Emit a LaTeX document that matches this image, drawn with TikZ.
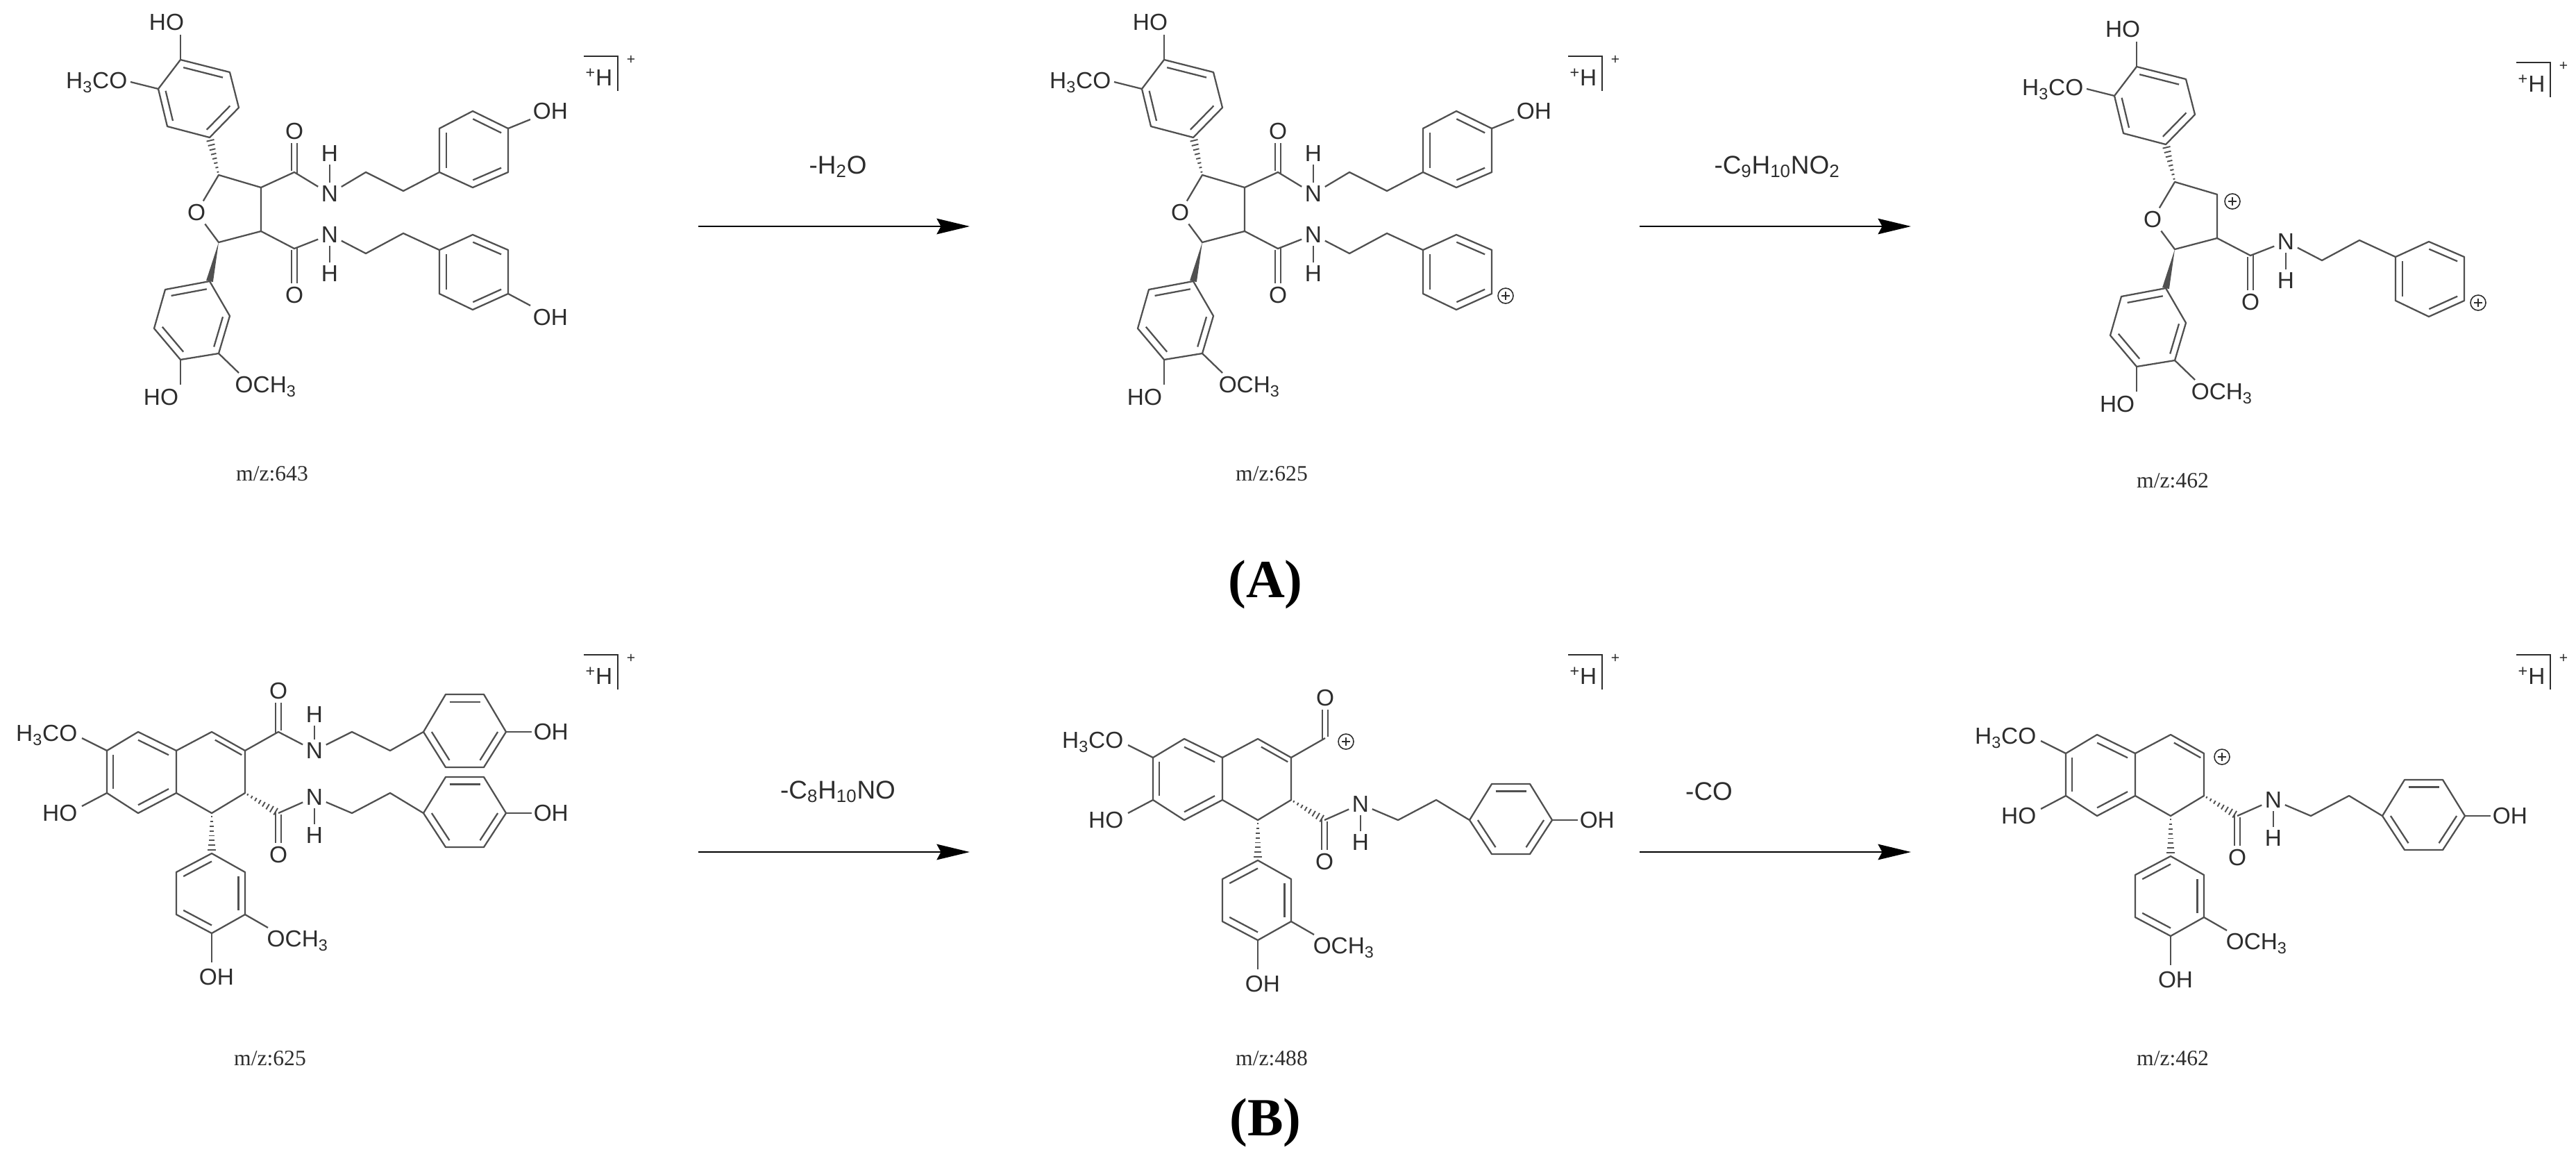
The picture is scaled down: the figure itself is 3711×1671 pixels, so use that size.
\documentclass[tikz,border=0pt]{standalone}
\usepackage{fontspec}
\usetikzlibrary{calc,arrows.meta}
\newfontfamily\lsans{Liberation Sans}
\newfontfamily\lserif{Liberation Serif}
\definecolor{bondc}{RGB}{80,80,80}
\definecolor{txtc}{RGB}{45,45,45}
\tikzset{
 bond/.style={line width=1.3pt,draw=bondc,line join=round},
 hashst/.style={line width=1.1pt,draw=bondc},
 atom/.style={font=\lsans\fontsize{19}{22}\selectfont,text=txtc,inner sep=2.5pt},
 mzlab/.style={font=\lserif\fontsize{18}{22}\selectfont,text=txtc},
 arrlab/.style={font=\lsans\fontsize{21}{24}\selectfont,text=txtc},
 panel/.style={font=\lserif\bfseries\fontsize{44}{50}\selectfont},
 rxarrow/.style={line width=1.6pt,-{Stealth[length=0.95cm,width=0.45cm,inset=0.12cm]}}
}
\newcommand\dbl[3]{\draw[bond] ($(#1)!0.2!(#3)$) -- ($(#2)!0.2!(#3)$);}
\newcommand\aryl[8]{\coordinate (#1-1) at #2;\coordinate (#1-2) at #3;\coordinate (#1-3) at #4;\coordinate (#1-4) at #5;\coordinate (#1-5) at #6;\coordinate (#1-6) at #7;
 \coordinate (#1-c) at ($(#1-1)!0.5!(#1-4)$);
 \draw[bond] (#1-1)--(#1-2)--(#1-3)--(#1-4)--(#1-5)--(#1-6)--cycle;
 \ifnum#8=1 \dbl{#1-1}{#1-2}{#1-c}\dbl{#1-3}{#1-4}{#1-c}\dbl{#1-5}{#1-6}{#1-c}\else \dbl{#1-6}{#1-1}{#1-c}\dbl{#1-2}{#1-3}{#1-c}\dbl{#1-4}{#1-5}{#1-c}\fi}
\newcommand\hashb[2]{\foreach \t in {0.08,0.2,...,0.96}{\pgfmathsetmacro\w{0.02+0.1*\t}\draw[hashst] ($(#1)!\t!(#2)!\w cm!90:(#2)$) -- ($(#1)!\t!(#2)!\w cm!-90:(#2)$);}}
\newcommand\wedgeb[2]{\fill[bondc] (#1) -- ($(#2)!0.1cm!90:(#1)$) -- ($(#2)!0.1cm!-90:(#1)$) -- cycle;}
\newcommand\cplus[1]{\draw[line width=0.9pt,draw=txtc] #1 circle[radius=11]; \draw[line width=0.9pt,draw=txtc] ($#1+(-6,0)$) -- ($#1+(6,0)$) ($#1+(0,-6)$) -- ($#1+(0,6)$);}
\newcommand\hbr[3]{\draw[line width=1.1pt,draw=txtc] (#2,#3) -- ($(#2,#3)+(49,0)$) -- ($(#2,#3)+(49,50)$);
 \node[atom] (#1) at ($(#2,#3)+(22,30)$) {\textsuperscript{+}H};
 \node[atom,font=\lsans\fontsize{12}{14}\selectfont] at ($(#2,#3)+(68,5)$) {+};}
% molecule A: #1 prefix, #2 upper amide, #3 OH on lower ring, #4 cation at C3
\newcommand\molA[4]{%
 \aryl{#1u}{(260,86)}{(331,104)}{(344,155)}{(302,198)}{(241,182)}{(228,128)}{1}
 \draw[bond] (#1u-1) -- (260,50);
 \node[atom] (#1hoa) at (240,32) {HO};
 \draw[bond] (#1u-6) -- (188,118);
 \node[atom,anchor=east] (#1meoa) at (188,119) {H\textsubscript{3}CO};
 \coordinate (#1c2) at (315,252); \coordinate (#1c3) at (376,270);
 \coordinate (#1c4) at (376,333); \coordinate (#1c5) at (315,349);
 \node[atom] (#1o) at (283,306) {O};
 \draw[bond] (#1o) -- (#1c2) -- (#1c3) -- (#1c4) -- (#1c5) -- (#1o);
 \hashb{#1c2}{#1u-4}
 \aryl{#1l}{(302,405)}{(331,455)}{(315,509)}{(260,518)}{(222,473)}{(238,417)}{2}
 \wedgeb{#1c5}{#1l-1}
 \draw[bond] (#1l-4) -- (260,554);
 \node[atom] (#1hob) at (232,572) {HO};
 \draw[bond] (#1l-3) -- (344,537);
 \node[atom,anchor=west] (#1meob) at (334,557) {OCH\textsubscript{3}};
 \coordinate (#1cb) at (424,358);
 \node[atom] (#1Nb) at (475,338) {N};
 \node[atom] (#1Hb) at (475,394) {H};
 \node[atom] (#1Ob) at (424,425) {O};
 \draw[bond] (#1c4) -- (#1cb) -- (#1Nb) -- (527,365) -- (581,336) -- (633,360);
 \draw[bond] (#1Nb) -- (#1Hb);
 \draw[bond] (420,360) -- (420,408) (428,356) -- (428,408);
 \aryl{#1q}{(633,360)}{(633,423)}{(681,446)}{(732,423)}{(732,360)}{(681,338)}{1}
 \ifnum#3=1 \draw[bond] (#1q-4) -- (764,440); \node[atom] (#1ohq) at (793,457) {OH};
 \else \cplus{(752,426)} \fi
 \ifnum#2=1
  \coordinate (#1ca) at (424,248);
  \node[atom] (#1Na) at (475,279) {N};
  \node[atom] (#1Ha) at (475,221) {H};
  \node[atom] (#1Oa) at (424,189) {O};
  \draw[bond] (#1c3) -- (#1ca) -- (#1Na) -- (527,248) -- (581,275) -- (633,248);
  \draw[bond] (#1Na) -- (#1Ha);
  \draw[bond] (420,246) -- (420,206) (428,250) -- (428,206);
  \aryl{#1r}{(633,248)}{(633,185)}{(681,160)}{(732,185)}{(732,248)}{(681,270)}{1}
  \draw[bond] (#1r-4) -- (764,172); \node[atom] (#1ohr) at (793,160) {OH};
 \fi
 \ifnum#4=1 \cplus{(398,280)} \fi
}
% molecule B: #1 prefix, #2 type 1 amide / 2 acylium / 3 cation
\newcommand\molB[2]{%
 \aryl{#1p}{(199,1054)}{(254,1081)}{(254,1142)}{(199,1171)}{(154,1142)}{(154,1081)}{1}
 \coordinate (#1s1) at (305,1054); \coordinate (#1s2) at (353,1081);
 \coordinate (#1s3) at (353,1142); \coordinate (#1s4) at (305,1171);
 \coordinate (#1sc) at (329,1112);
 \draw[bond] (#1p-2) -- (#1s1) -- (#1s2) -- (#1s3) -- (#1s4) -- (#1p-3);
 \dbl{#1s1}{#1s2}{#1sc}
 \draw[bond] (#1p-6) -- (118,1063);
 \node[atom,anchor=east] (#1meo) at (116,1059) {H\textsubscript{3}CO};
 \draw[bond] (#1p-5) -- (118,1161);
 \node[atom,anchor=east] (#1ho) at (116,1171) {HO};
 \coordinate (#1w1) at (305,1229);
 \hashb{#1s4}{#1w1}
 \aryl{#1w}{(305,1229)}{(353,1256)}{(353,1317)}{(305,1344)}{(254,1317)}{(254,1256)}{2}
 \draw[bond] (#1w-3) -- (386,1336);
 \node[atom,anchor=west] (#1meow) at (380,1355) {OCH\textsubscript{3}};
 \draw[bond] (#1w-4) -- (305,1386);
 \node[atom] (#1how) at (312,1407) {OH};
 \coordinate (#1cl) at (401,1171);
 \hashb{#1s3}{#1cl}
 \node[atom] (#1Nl) at (453,1148) {N};
 \node[atom] (#1Hl) at (453,1203) {H};
 \node[atom] (#1Ol) at (401,1231) {O};
 \draw[bond] (#1cl) -- (#1Nl) -- (507,1171) -- (562,1142) -- (610,1171);
 \draw[bond] (#1Nl) -- (#1Hl);
 \draw[bond] (397,1169) -- (397,1214) (405,1173) -- (405,1214);
 \aryl{#1v}{(610,1171)}{(642,1119)}{(697,1119)}{(729,1171)}{(697,1220)}{(642,1220)}{2}
 \draw[bond] (#1v-4) -- (766,1171);
 \node[atom,anchor=west] (#1ohv) at (764,1171) {OH};
 \ifnum#2=1
  \coordinate (#1cu) at (401,1054);
  \node[atom] (#1Nu) at (453,1081) {N};
  \node[atom] (#1Hu) at (453,1029) {H};
  \node[atom] (#1Ou) at (401,995) {O};
  \draw[bond] (#1s2) -- (#1cu) -- (#1Nu) -- (507,1054) -- (562,1081) -- (610,1054);
  \draw[bond] (#1Nu) -- (#1Hu);
  \draw[bond] (397,1056) -- (397,1012) (405,1052) -- (405,1012);
  \aryl{#1t}{(610,1054)}{(642,1000)}{(697,1000)}{(729,1054)}{(697,1105)}{(642,1105)}{2}
  \draw[bond] (#1t-4) -- (766,1054);
  \node[atom,anchor=west] (#1oht) at (764,1054) {OH};
 \fi
 \ifnum#2=2
  \coordinate (#1cu) at (402,1053);
  \node[atom] (#1Ou) at (402,995) {O};
  \draw[bond] (#1s2) -- (#1cu);
  \draw[bond] (398,1055) -- (398,1012) (406,1051) -- (406,1012);
  \cplus{(432,1058)}
 \fi
 \ifnum#2=3 \cplus{(379,1086)} \fi
}
\begin{document}
\begin{tikzpicture}[x=0.02cm,y=-0.02cm]
\useasboundingbox (0,0) rectangle (3711,1671);
% row A
\molA{a1}{1}{1}{0}
\begin{scope}[shift={(1417,0)}]\molA{a2}{1}{0}{0}\end{scope}
\begin{scope}[shift={(2818,10)}]\molA{a3}{0}{0}{1}\end{scope}
\hbr{ha1}{841}{81}
\hbr{ha2}{2259}{81}
\hbr{ha3}{3625}{90}
\node[mzlab] (mza1) at (392,682) {m/z:643};
\node[mzlab] (mza2) at (1832,682) {m/z:625};
\node[mzlab] (mza3) at (3130,692) {m/z:462};
\coordinate (ra1s) at (1006,326); \coordinate (ra1e) at (1397,326);
\coordinate (ra2s) at (2362,326); \coordinate (ra2e) at (2753,326);
\draw[rxarrow] (ra1s) -- (ra1e);
\draw[rxarrow] (ra2s) -- (ra2e);
\node[arrlab] (la1) at (1207,240) {-H\textsubscript{2}O};
\node[arrlab] (la2) at (2560,240) {-C\textsubscript{9}H\textsubscript{10}NO\textsubscript{2}};
\node[panel] (pA) at (1823,842) {(A)};
% row B
\molB{b1}{1}
\begin{scope}[shift={(1507,10)}]\molB{b2}{2}\end{scope}
\begin{scope}[shift={(2822,4)}]\molB{b3}{3}\end{scope}
\hbr{hb1}{841}{943}
\hbr{hb2}{2259}{943}
\hbr{hb3}{3625}{943}
\node[mzlab] (mzb1) at (389,1524) {m/z:625};
\node[mzlab] (mzb2) at (1832,1524) {m/z:488};
\node[mzlab] (mzb3) at (3130,1524) {m/z:462};
\coordinate (rb1s) at (1006,1227); \coordinate (rb1e) at (1397,1227);
\coordinate (rb2s) at (2362,1227); \coordinate (rb2e) at (2753,1227);
\draw[rxarrow] (rb1s) -- (rb1e);
\draw[rxarrow] (rb2s) -- (rb2e);
\node[arrlab] (lb1) at (1207,1140) {-C\textsubscript{8}H\textsubscript{10}NO};
\node[arrlab] (lb2) at (2462,1140) {-CO};
\node[panel] (pB) at (1823,1617) {(B)};
\end{tikzpicture}
\end{document}
